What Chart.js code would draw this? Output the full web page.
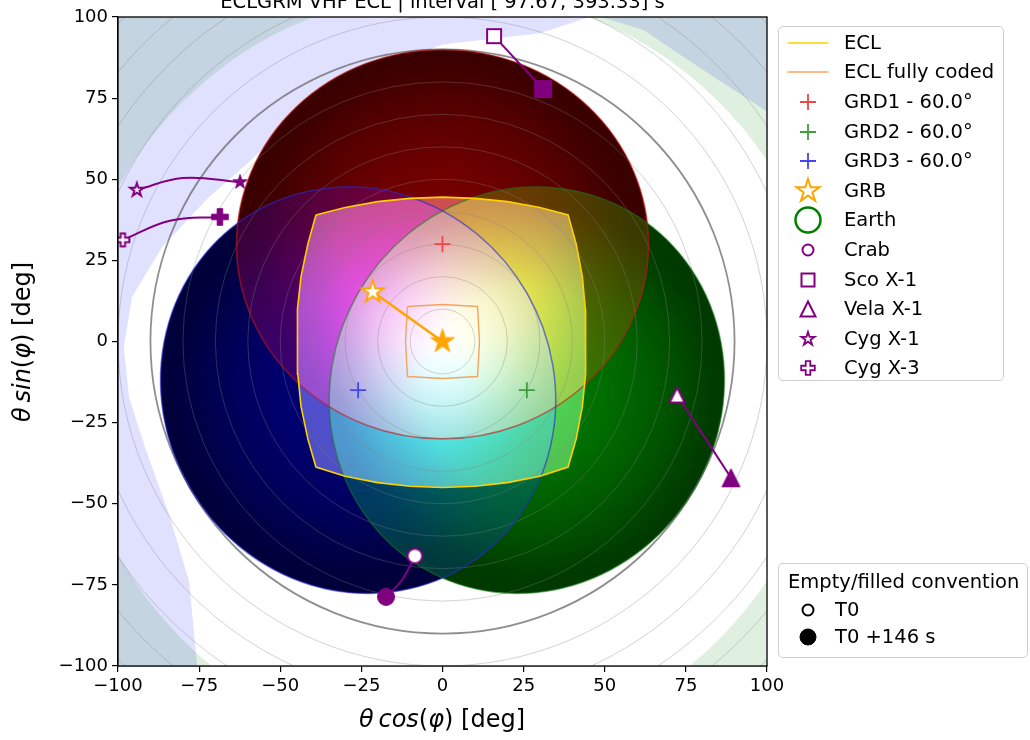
<!DOCTYPE html>
<html>
<head>
<meta charset="utf-8">
<title>ECLGRM VHF ECL</title>
<script src="https://cdn.jsdelivr.net/npm/chart.js@4.4.1/dist/chart.umd.min.js"></script>
<style>
  html, body { margin: 0; padding: 0; background: #fff; }
  body { font-family: 'DejaVu Sans', sans-serif; color: #000; }
  #wrap { position: relative; width: 1030px; height: 740px; overflow: hidden; }
  #sky { position: absolute; left: 0; top: 0; }
  .txt { position: absolute; white-space: nowrap; }
  .plot-title { left: 118px; width: 649px; top: -8px; text-align: center; font-size: 19.5px; line-height: 19px; }
  .xlabel { left: 442px; top: 719px; transform: translate(-50%, -50%); font-size: 24px; }
  .ylabel { left: 22px; top: 342px; transform: translate(-50%, -50%) rotate(-90deg); font-size: 24px; }
  .legend { position: absolute; border: 1.5px solid #cfcfcf; border-radius: 5px; background: rgba(255,255,255,0.85); box-sizing: border-box; }
  .legend-label { position: absolute; font-size: 19.5px; line-height: 22px; white-space: nowrap; }
  .legend-icon { position: absolute; }
</style>
</head>
<body>
<div id="wrap">
  <canvas id="sky" width="1030" height="740"></canvas>
  <div class="txt plot-title">ECLGRM VHF ECL | interval [ 97.67, 393.33] s</div>
  <div class="txt xlabel"><i>θ&#8201;cos</i>(<i>φ</i>) [deg]</div>
  <div class="txt ylabel"><i>θ&#8201;sin</i>(<i>φ</i>) [deg]</div>
  <div class="legend" style="left:778px;top:26px;width:226px;height:355px;"></div>
  <div class="legend" style="left:778px;top:563px;width:250px;height:95px;"></div>
</div>
<script>
// ---- values ----
const tickValues = [-100, -75, -50, -25, 0, 25, 50, 75, 100];
const ringRadii = [10, 20, 30, 40, 50, 60, 70, 80, 100, 110, 120, 130, 140];
const horizonRadius = 90;

const grdNames = ['GRD1 - 60.0°', 'GRD2 - 60.0°', 'GRD3 - 60.0°'];
const grdX = [0, 26, -26];
const grdY = [30, -15, -15];
const fovRadial = 60;       // deg along the off-axis direction
const fovTangential = 63.5; // deg across it (projection stretch)

const eclX = [-39, -30, -20, -10, 0, 10, 20, 30, 38.7,
              41.2, 43.1, 44.0, 44.2, 44.0, 43.1, 41.2, 38.7,
              30, 20, 10, 0, -10, -20, -30, -39,
              -41.5, -43.6, -44.6, -44.8, -44.6, -43.6, -41.5];
const eclY = [39, 41.3, 43.1, 44.1, 44.5, 44.1, 43.1, 41.3, 39,
              30, 20, 10, 0, -10, -20, -30, -38.7,
              -41.5, -43.5, -44.6, -45, -44.6, -43.5, -41.5, -38.7,
              -30, -20, -10, 0, 10, 20, 30];
const eclCodedX = [-10.8, 0, 10.8, 11.4, 10.8, 0, -10.8, -11.4];
const eclCodedY = [10.8, 11.4, 10.8, 0, -10.8, -11.4, -10.8, 0];

const grbX = [-21.5, 0];
const grbY = [15.3, 0];

const sourceNames = ['Crab', 'Sco X-1', 'Vela X-1', 'Cyg X-1', 'Cyg X-3'];
const crabX = [-8.5, -12.5, -17.4];
const crabY = [-66.1, -73.5, -78.7];
const scoX = [15.9, 31];
const scoY = [94.1, 77.8];
const velaX = [72.3, 88.9];
const velaY = [-16.5, -42];
const cygX1X = [-94.2, -80, -62.4];
const cygX1Y = [46.7, 50.4, 49.1];
const cygX3X = [-98.5, -84, -68.6];
const cygX3Y = [31.3, 37.2, 38.4];

// sky not hidden by the Earth (first epoch outline, second epoch as a circle)
const freeT0X = [-98.2, -95.7, -86.4, -72.5, -60, -46, -28, 0, 30, 47, 62, 73, 86, 99.4, 115, 150, 150, -74, -75.6, -78.1, -84.3, -91.7, -96.6];
const freeT0Y = [-1.7, 13.7, 29.1, 44, 55, 68, 80.5, 91.5, 95, 100.5, 96, 88.5, 80, 71.3, 60, 0, -150, -150, -100, -73.8, -53.2, -32.5, -17.1];
const freeT1Center = [2.5, -9];
const freeT1Radius = 117;

const timeLabels = ['T0', 'T0 +146 s'];

// ---- styles ----
const purple = '#800080';
const orange = '#ffa500';
const eclColor = '#ffd000';
const codedColor = '#f4a460';
const grdColors = ['#f04545', '#3f9f3f', '#4545f0'];
const grdOutline = ['rgba(200,20,20,0.6)', 'rgba(30,120,30,0.55)', 'rgba(40,40,210,0.6)'];

function tracePath(c, shape, x, y, s) {
    c.beginPath();
    if (shape === 'circle') {
        c.arc(x, y, s, 0, Math.PI * 2);
    } else if (shape === 'square') {
        c.rect(x - s, y - s, 2 * s, 2 * s);
    } else if (shape === 'triangle') {
        c.moveTo(x, y - s); c.lineTo(x + s, y + s); c.lineTo(x - s, y + s); c.closePath();
    } else if (shape === 'star') {
        for (let k = 0; k < 10; k++) {
            const r = k % 2 ? s * 0.382 : s;
            const a = -Math.PI / 2 + k * Math.PI / 5;
            if (k) c.lineTo(x + r * Math.cos(a), y + r * Math.sin(a));
            else c.moveTo(x + r * Math.cos(a), y + r * Math.sin(a));
        }
        c.closePath();
    } else if (shape === 'plus') {
        const a = s / 3;
        const pts = [[-a, -s], [a, -s], [a, -a], [s, -a], [s, a], [a, a], [a, s], [-a, s], [-a, a], [-s, a], [-s, -a], [-a, -a]];
        pts.forEach((p, k) => k ? c.lineTo(x + p[0], y + p[1]) : c.moveTo(x + p[0], y + p[1]));
        c.closePath();
    } else if (shape === 'cross') {
        c.moveTo(x - s, y); c.lineTo(x + s, y); c.moveTo(x, y - s); c.lineTo(x, y + s);
    } else if (shape === 'line') {
        c.moveTo(x - s, y); c.lineTo(x + s, y);
    }
}

function paintMarker(c, shape, x, y, s, fill, stroke, lw) {
    tracePath(c, shape, x, y, s);
    if (fill) { c.fillStyle = fill; c.fill(); }
    if (stroke) { c.strokeStyle = stroke; c.lineWidth = lw; c.stroke(); }
}

function markerImage(shape, s, fill, stroke, lw) {
    const n = Math.ceil(2 * s + lw + 4);
    const cv = document.createElement('canvas');
    cv.width = n; cv.height = n;
    paintMarker(cv.getContext('2d'), shape, n / 2, n / 2, s, fill, stroke, lw);
    return cv;
}

const toPoints = (xs, ys) => xs.map((v, i) => ({ x: v, y: ys[i] }));
const closed = (xs, ys) => toPoints(xs.concat(xs[0]), ys.concat(ys[0]));

function trackDataset(label, xs, ys, shape, sHollow, sFilled) {
    const last = xs.length - 1;
    const hollow = markerImage(shape, sHollow, '#fff', purple, 2);
    const filled = markerImage(shape, sFilled, purple, purple, 1);
    return {
        label: label,
        data: toPoints(xs, ys),
        showLine: true,
        borderColor: purple,
        borderWidth: 2,
        tension: 0.4,
        pointStyle: xs.map((_, i) => i === last ? filled : hollow),
        pointRadius: xs.map((_, i) => (i === 0 || i === last) ? 6 : 0)
    };
}

const datasets = [
    trackDataset(sourceNames[0], crabX, crabY, 'circle', 7.3, 8.5),
    trackDataset(sourceNames[1], scoX, scoY, 'square', 7, 8.5),
    trackDataset(sourceNames[2], velaX, velaY, 'triangle', 7.5, 9),
    trackDataset(sourceNames[3], cygX1X, cygX1Y, 'star', 7, 7.5),
    trackDataset(sourceNames[4], cygX3X, cygX3Y, 'plus', 6.5, 8.3),
    {
        label: 'GRB',
        data: toPoints(grbX, grbY),
        showLine: true,
        borderColor: orange,
        borderWidth: 2.5,
        pointStyle: [markerImage('star', 11.5, '#fff', orange, 2), markerImage('star', 12.5, orange, orange, 1)],
        pointRadius: 6
    }
];
grdNames.forEach((name, i) => datasets.push({
    label: name,
    data: [{ x: grdX[i], y: grdY[i] }],
    pointStyle: 'cross',
    pointRadius: 8,
    borderWidth: 1.8,
    borderColor: grdColors[i]
}));
datasets.push({
    label: 'ECL fully coded', data: closed(eclCodedX, eclCodedY), showLine: true,
    borderColor: codedColor, borderWidth: 1.4, pointRadius: 0
});
datasets.push({
    label: 'ECL', data: closed(eclX, eclY), showLine: true,
    borderColor: eclColor, borderWidth: 1.6, pointRadius: 0
});

// background: Earth occultation, detector fields of view, rings
const skyLayers = {
    id: 'skyLayers',
    beforeDatasetsDraw(chart) {
        const { ctx, chartArea: a, scales: { x, y } } = chart;
        const px = v => x.getPixelForValue(v);
        const py = v => y.getPixelForValue(v);
        const unit = Math.abs(px(1) - px(0));
        const ox = px(0), oy = py(0);

        const fovPath = (c, i) => {
            const cx = px(grdX[i]), cy = py(grdY[i]);
            const rot = Math.atan2(cy - oy, cx - ox);
            c.beginPath();
            c.ellipse(cx, cy, fovRadial * unit, fovTangential * unit, rot, 0, Math.PI * 2);
        };
        const eclPath = c => {
            c.beginPath();
            eclX.forEach((v, i) => i ? c.lineTo(px(v), py(eclY[i])) : c.moveTo(px(v), py(eclY[i])));
            c.closePath();
        };

        // each detector shaded like a ball (cosine response), channels added
        const chan = [v => `rgb(${v},0,0)`, v => `rgb(0,${v},0)`, v => `rgb(0,0,${v})`];
        const fovLayer = gain => {
            const off = document.createElement('canvas');
            off.width = chart.width; off.height = chart.height;
            const o = off.getContext('2d');
            o.globalCompositeOperation = 'lighter';
            grdX.forEach((gx, i) => {
                const cx = px(gx), cy = py(grdY[i]);
                const g = o.createRadialGradient(cx, cy, 0, cx, cy, fovTangential * unit);
                for (let k = 0; k <= 12; k++) {
                    const ang = fovTangential * k / 12 * Math.PI / 180;
                    const v = Math.max(58, 122 * Math.pow(Math.max(Math.cos(ang), 0), 1.2));
                    g.addColorStop(k / 12, chan[i](Math.min(255, Math.round(gain * v))));
                }
                fovPath(o, i);
                o.fillStyle = g;
                o.fill();
            });
            return off;
        };

        ctx.save();
        ctx.beginPath();
        ctx.rect(a.left, a.top, a.width, a.height);
        ctx.clip();
        ctx.fillStyle = '#fff';
        ctx.fillRect(a.left, a.top, a.width, a.height);

        ctx.beginPath();
        ctx.rect(a.left, a.top, a.width, a.height);
        freeT0X.forEach((v, i) => i ? ctx.lineTo(px(v), py(freeT0Y[i])) : ctx.moveTo(px(v), py(freeT0Y[i])));
        ctx.closePath();
        ctx.fillStyle = 'rgba(0, 0, 255, 0.12)';
        ctx.fill('evenodd');

        const bx = px(freeT1Center[0]), by = py(freeT1Center[1]), br = freeT1Radius * unit;
        ctx.beginPath();
        ctx.rect(a.left, a.top, a.width, a.height);
        ctx.moveTo(bx + br, by);
        ctx.arc(bx, by, br, 0, Math.PI * 2);
        ctx.fillStyle = 'rgba(0, 128, 0, 0.12)';
        ctx.fill('evenodd');

        ctx.drawImage(fovLayer(1), 0, 0, chart.width, chart.height);

        // inside the ECL the response is shown brighter, fading off-axis
        ctx.save();
        eclPath(ctx);
        ctx.clip();
        ctx.drawImage(fovLayer(2.5), 0, 0, chart.width, chart.height);
        const fade = ctx.createRadialGradient(ox, oy, 0, ox, oy, 50 * unit);
        [[0, 255], [0.2, 255], [0.4, 240], [0.6, 215], [0.8, 190], [1, 172]]
            .forEach(([f, v]) => fade.addColorStop(f, `rgb(${v},${v},${v})`));
        ctx.globalCompositeOperation = 'multiply';
        ctx.fillStyle = fade;
        ctx.fillRect(a.left, a.top, a.width, a.height);
        ctx.globalCompositeOperation = 'source-over';
        ctx.fillStyle = 'rgba(255, 255, 255, 0.31)';
        ctx.fillRect(a.left, a.top, a.width, a.height);
        ctx.restore();

        // off-axis rings
        ringRadii.forEach(r => {
            ctx.beginPath();
            ctx.arc(ox, oy, r * unit, 0, Math.PI * 2);
            ctx.strokeStyle = 'rgba(128, 128, 128, 0.35)';
            ctx.lineWidth = 1;
            ctx.stroke();
        });
        ctx.beginPath();
        ctx.arc(ox, oy, horizonRadius * unit, 0, Math.PI * 2);
        ctx.strokeStyle = 'rgba(105, 105, 105, 0.75)';
        ctx.lineWidth = 1.8;
        ctx.stroke();

        grdX.forEach((_, i) => {
            fovPath(ctx, i);
            ctx.strokeStyle = grdOutline[i];
            ctx.lineWidth = 1.5;
            ctx.stroke();
        });
        ctx.restore();
    },
    afterDraw(chart) {
        const { ctx, chartArea: a } = chart;
        ctx.save();
        ctx.strokeStyle = '#000';
        ctx.lineWidth = 1.3;
        ctx.strokeRect(a.left, a.top, a.width, a.height);
        ctx.restore();
    }
};

const tickFont = { family: 'DejaVu Sans', size: 18 };
function axis(position, fit) {
    return {
        type: 'linear',
        position: position,
        min: -100,
        max: 100,
        afterBuildTicks: s => { s.ticks = tickValues.map(v => ({ value: v })); },
        afterFit: fit,
        ticks: {
            font: tickFont, color: '#000', padding: 4, maxRotation: 0, autoSkip: false,
            callback: v => String(v).replace('-', '\u2212')
        },
        grid: { drawOnChartArea: false, drawTicks: true, tickLength: 6, color: '#000', lineWidth: 1.2 },
        border: { display: true, color: '#000', width: 1.3 }
    };
}

new Chart(document.getElementById('sky'), {
    type: 'scatter',
    data: { datasets: datasets },
    options: {
        responsive: false,
        animation: false,
        events: [],
        layout: { padding: { left: 0, top: 17, right: 263, bottom: 0 } },
        scales: {
            x: axis('bottom', s => { s.height = 74; }),
            y: axis('left', s => { s.width = 118; })
        },
        plugins: { legend: { display: false }, tooltip: { enabled: false } }
    },
    plugins: [skyLayers]
});

// ---- legends ----
const wrap = document.getElementById('wrap');
function addIcon(cx, cy, draw) {
    const cv = document.createElement('canvas');
    cv.width = 48; cv.height = 30;
    cv.className = 'legend-icon';
    cv.style.left = (cx - 24) + 'px';
    cv.style.top = (cy - 15) + 'px';
    draw(cv.getContext('2d'), 24, 15);
    wrap.appendChild(cv);
}
function addLabel(x, cy, text) {
    const d = document.createElement('div');
    d.className = 'legend-label';
    d.style.left = x + 'px';
    d.style.top = (cy - 11) + 'px';
    d.textContent = text;
    wrap.appendChild(d);
}

const mainLabels = ['ECL', 'ECL fully coded'].concat(grdNames, ['GRB', 'Earth'], sourceNames);
const mainIcons = [
    (c, x, y) => paintMarker(c, 'line', x, y, 20.5, null, eclColor, 1.5),
    (c, x, y) => paintMarker(c, 'line', x, y, 20.5, null, codedColor, 1.5),
    (c, x, y) => paintMarker(c, 'cross', x, y, 8, null, grdColors[0], 1.8),
    (c, x, y) => paintMarker(c, 'cross', x, y, 8, null, grdColors[1], 1.8),
    (c, x, y) => paintMarker(c, 'cross', x, y, 8, null, grdColors[2], 1.8),
    (c, x, y) => paintMarker(c, 'star', x, y, 12, '#fff', orange, 2),
    (c, x, y) => paintMarker(c, 'circle', x, y, 12.5, null, '#008000', 2.5),
    (c, x, y) => paintMarker(c, 'circle', x, y, 5.5, '#fff', purple, 2),
    (c, x, y) => paintMarker(c, 'square', x, y, 6.5, '#fff', purple, 2),
    (c, x, y) => paintMarker(c, 'triangle', x, y, 7.5, '#fff', purple, 2),
    (c, x, y) => paintMarker(c, 'star', x, y, 7, '#fff', purple, 1.8),
    (c, x, y) => paintMarker(c, 'plus', x, y, 6.8, '#fff', purple, 1.8)
];
mainLabels.forEach((label, k) => {
    const cy = 42.7 + 29.6 * k;
    addIcon(808, cy, mainIcons[k]);
    addLabel(844, cy, label);
});

addLabel(788, 582, 'Empty/filled convention');
addIcon(808, 610, (c, x, y) => paintMarker(c, 'circle', x, y, 5.5, '#fff', '#000', 2));
addLabel(835, 610, timeLabels[0]);
addIcon(808, 637, (c, x, y) => paintMarker(c, 'circle', x, y, 8, '#000', '#000', 1));
addLabel(835, 637, timeLabels[1]);
</script>
</body>
</html>
